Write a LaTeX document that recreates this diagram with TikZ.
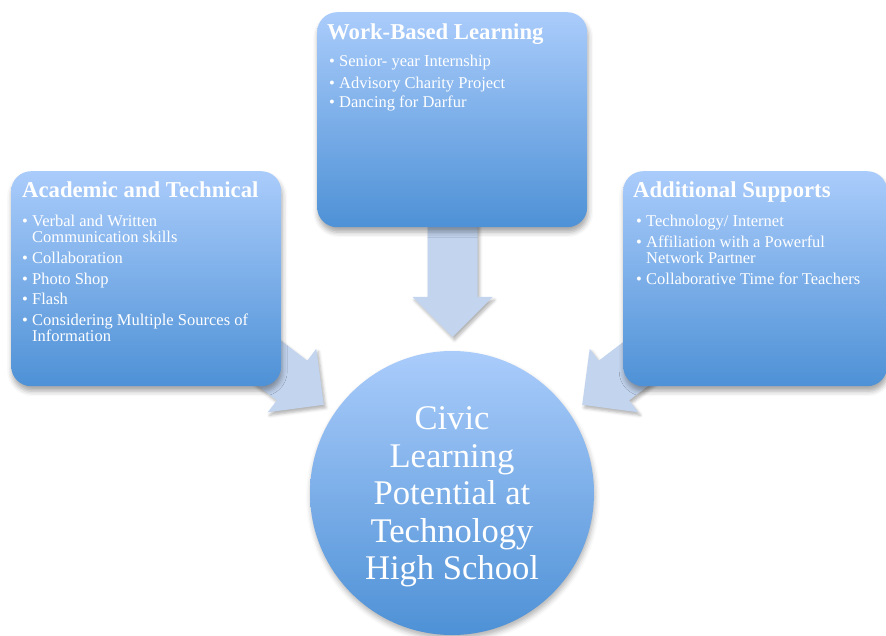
\documentclass[tikz,border=0pt]{standalone}
\usepackage{fontspec}
\setmainfont{Liberation Serif}
\usetikzlibrary{shadows.blur}
\definecolor{boxtop}{RGB}{170,204,251}
\definecolor{boxbot}{RGB}{78,145,214}
\definecolor{arrowfill}{RGB}{194,212,238}
\newcommand\bul{\makebox[10pt][l]{\textbullet}}
\newcommand\ind{\hspace*{10pt}}
\newcommand\lines[1]{\begin{tabular}[t]{@{}l@{}}#1\end{tabular}}
\tikzset{
  x=1pt, y=-1pt,
  panel/.style={rounded corners=20pt, top color=boxtop, bottom color=boxbot, draw=none,
    minimum width=270pt, minimum height=215pt, anchor=north west, inner sep=0pt,
    blur shadow={shadow xshift=1pt, shadow yshift=-5pt, shadow blur radius=5pt, shadow opacity=35}},
  hub/.style={circle, top color=boxtop, bottom color=boxbot, draw=none, minimum size=284pt, inner sep=0pt,
    blur shadow={shadow xshift=1pt, shadow yshift=-4pt, shadow blur radius=5pt, shadow opacity=30}},
  blockarrow/.style={fill=arrowfill, draw=none,
    blur shadow={shadow xshift=2pt, shadow yshift=-3pt, shadow blur radius=3pt, shadow opacity=30}},
  heading/.style={anchor=base west, inner sep=0pt, text=white, font=\fontsize{22.7}{26}\bfseries\selectfont},
  items/.style={anchor=base west, inner sep=0pt, text=white, font=\fontsize{16.5}{15}\selectfont},
  hubtext/.style={text=white, align=center, inner sep=0pt, font=\fontsize{34.6}{37.5}\selectfont},
  pics/barrow/.style={code={
    \fill[blockarrow] (-#1,-25) -- (0,-25) -- (0,-40) -- (40,0) -- (0,40) -- (0,25) -- (-#1,25) -- cycle;}}
}
\begin{document}
\begin{tikzpicture}
\useasboundingbox (0,0) rectangle (886,636);
\clip (0,0) rectangle (886,636);
% arrow bases
\coordinate (la) at (292,380.5);
\coordinate (ta) at (452.5,297);
\coordinate (ra) at (614,380.5);
\pic[rotate=-37.4] at (la) {barrow=75};
\pic[rotate=-90] at (ta) {barrow=100};
\pic[rotate=-142.6] at (ra) {barrow=75};
% panels
\node[panel] (acad) at (11,171) {};
\node[panel] (work) at (317,12) {};
\node[panel, minimum width=264pt] (supp) at (623,171) {};
\node[hub] (civic) at (452,493) {};
% texts
\node[heading] (acadT) at (22,198) {Academic and Technical};
\node[items] (acadL) at (22,227) {\lines{\bul Verbal and Written\\
\ind Communication skills\\[5pt]
\bul Collaboration\\[5pt]
\bul Photo Shop\\[3.5pt]
\bul Flash\\[5pt]
\bul Considering Multiple Sources of\\
\ind Information}};
\node[heading] (workT) at (327,40) {Work-Based Learning};
\node[items] (workL) at (329,67) {\lines{\bul Senior- year Internship\\[5.5pt]
\bul Advisory Charity Project\\[2.5pt]
\bul Dancing for Darfur}};
\node[heading] (suppT) at (633,198) {Additional Supports};
\node[items] (suppL) at (636,227) {\lines{\bul Technology/ Internet\\[4.5pt]
\bul Affiliation with a Powerful\\
\ind Network Partner\\[5pt]
\bul Collaborative Time for Teachers}};
\node[hubtext] (civicT) at (452,497) {Civic\\Learning\\Potential at\\Technology\\High School};
\end{tikzpicture}
\end{document}
